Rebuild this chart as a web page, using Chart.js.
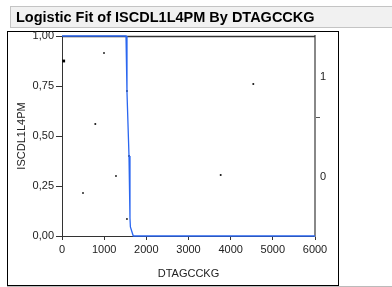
<!DOCTYPE html>
<html>
<head>
<meta charset="utf-8">
<script src="https://cdn.jsdelivr.net/npm/chart.js@4.4.1/dist/chart.umd.min.js"></script>
<style>
  html, body { margin: 0; padding: 0; background: #fff; }
  #wrap { width: 392px; height: 287px; }
</style>
</head>
<body>
<div id="wrap"><canvas id="chart" width="392" height="287"></canvas></div>
<script>
// data
var titleText = 'Logistic Fit of ISCDL1L4PM By DTAGCCKG';
var xTitle = 'DTAGCCKG';
var yTitle = 'ISCDL1L4PM';

var pointX = [40, 996, 1540, 790, 1590, 1280, 498, 1540, 3763, 4537];
var pointY = [0.875, 0.915, 0.725, 0.56, 0.40, 0.30, 0.215, 0.085, 0.305, 0.76];

var fitX = [0, 1518, 1541, 1589, 1612, 1622, 1690, 6000];
var fitY = [1, 1, 0.72, 0.40, 0.09, 0.045, 0, 0];

var xTicks = [0, 1000, 2000, 3000, 4000, 5000, 6000];
var yTicks = [0, 0.25, 0.5, 0.75, 1];
var levelTicks = [0.2975, 0.595, 0.7975];
var levelLabels = ['0', '', '1'];

var FONT = "'Liberation Sans', Arial, sans-serif";

function toTicks(arr) {
  return arr.map(function(v) { return { value: v }; });
}

var framePlugin = {
  id: 'frame',
  beforeDraw: function(chart) {
    var c = chart.ctx;
    c.save();
    c.fillStyle = '#fff';
    c.fillRect(0, 0, chart.width, chart.height);
    // title bar
    c.fillStyle = '#f1f1f1';
    c.fillRect(10, 6, 392, 22);
    c.strokeStyle = '#c4c4c4';
    c.lineWidth = 1;
    c.strokeRect(10.5, 6.5, 392, 21);
    c.fillStyle = '#000';
    c.font = 'bold 14.5px ' + FONT;
    c.textBaseline = 'middle';
    c.fillText(titleText, 16, 17.5);
    // outline box
    c.strokeStyle = '#bbb';
    c.beginPath();
    c.moveTo(7, 286.5);
    c.lineTo(392, 286.5);
    c.stroke();
    c.strokeStyle = '#000';
    c.strokeRect(7.5, 31.5, 331, 254);
    c.restore();
  },
  beforeDatasetsDraw: function(chart) {
    // top edge of the plot frame, under the fit line
    var a = chart.chartArea;
    var c = chart.ctx;
    c.save();
    c.strokeStyle = '#333';
    c.lineWidth = 1.5;
    c.beginPath();
    c.moveTo(a.left, a.top + 0.5);
    c.lineTo(a.right, a.top + 0.5);
    c.stroke();
    c.restore();
  }
};

var ctx = document.getElementById('chart').getContext('2d');
new Chart(ctx, {
  type: 'scatter',
  data: {
    datasets: [{
      label: 'fit',
      type: 'line',
      data: fitX.map(function(x, i) { return { x: x, y: fitY[i] }; }),
      borderColor: '#2a66f0',
      borderWidth: 1.3,
      pointRadius: 0,
      tension: 0,
      fill: false,
      clip: 2,
      yAxisID: 'y'
    }, {
      label: 'points',
      data: pointX.map(function(x, i) { return { x: x, y: pointY[i] }; }),
      pointStyle: 'rect',
      pointRadius: function(c) { return c.dataIndex === 0 ? 2 : 1.2; },
      backgroundColor: '#000',
      borderColor: '#000',
      borderWidth: 0,
      yAxisID: 'y'
    }]
  },
  options: {
    responsive: false,
    animation: false,
    devicePixelRatio: 1,
    layout: { padding: { left: 7, right: 54, top: 36, bottom: 2 } },
    plugins: {
      legend: { display: false },
      tooltip: { enabled: false }
    },
    scales: {
      x: {
        type: 'linear',
        min: 0,
        max: 6000,
        afterBuildTicks: function(s) { s.ticks = toTicks(xTicks); },
        afterFit: function(s) { s.height = 49; },
        grid: { drawOnChartArea: false, tickLength: 4, color: '#333' },
        border: { color: '#333' },
        ticks: {
          font: { family: FONT, size: 11 }, color: '#222', padding: 3, maxRotation: 0,
          callback: function(v) { return String(v); }
        },
        title: { display: true, text: xTitle, font: { family: FONT, size: 11 }, color: '#222', padding: { top: 0, bottom: 4 } }
      },
      y: {
        position: 'left',
        min: 0,
        max: 1,
        afterBuildTicks: function(s) { s.ticks = toTicks(yTicks); },
        afterFit: function(s) { s.width = 55; },
        grid: { drawOnChartArea: false, tickLength: 6, color: '#333' },
        border: { color: '#333' },
        ticks: {
          font: { family: FONT, size: 11 }, color: '#222', padding: 2,
          callback: function(v) { return v.toFixed(2).replace('.', ','); }
        },
        title: { display: true, text: yTitle, font: { family: FONT, size: 11 }, color: '#222', padding: { top: 8, bottom: 0 } }
      },
      y2: {
        position: 'right',
        min: 0,
        max: 1,
        afterBuildTicks: function(s) { s.ticks = toTicks(levelTicks); },
        afterFit: function(s) { s.width = 23; },
        grid: {
          drawOnChartArea: false, tickLength: 5,
          color: function(c) { return c.index === 1 ? '#555' : 'rgba(0,0,0,0)'; }
        },
        border: { color: '#888', width: 2 },
        ticks: {
          font: { family: FONT, size: 11 }, color: '#222', padding: 0,
          callback: function(v, i) { return levelLabels[i]; }
        }
      }
    }
  },
  plugins: [framePlugin]
});
</script>
</body>
</html>
